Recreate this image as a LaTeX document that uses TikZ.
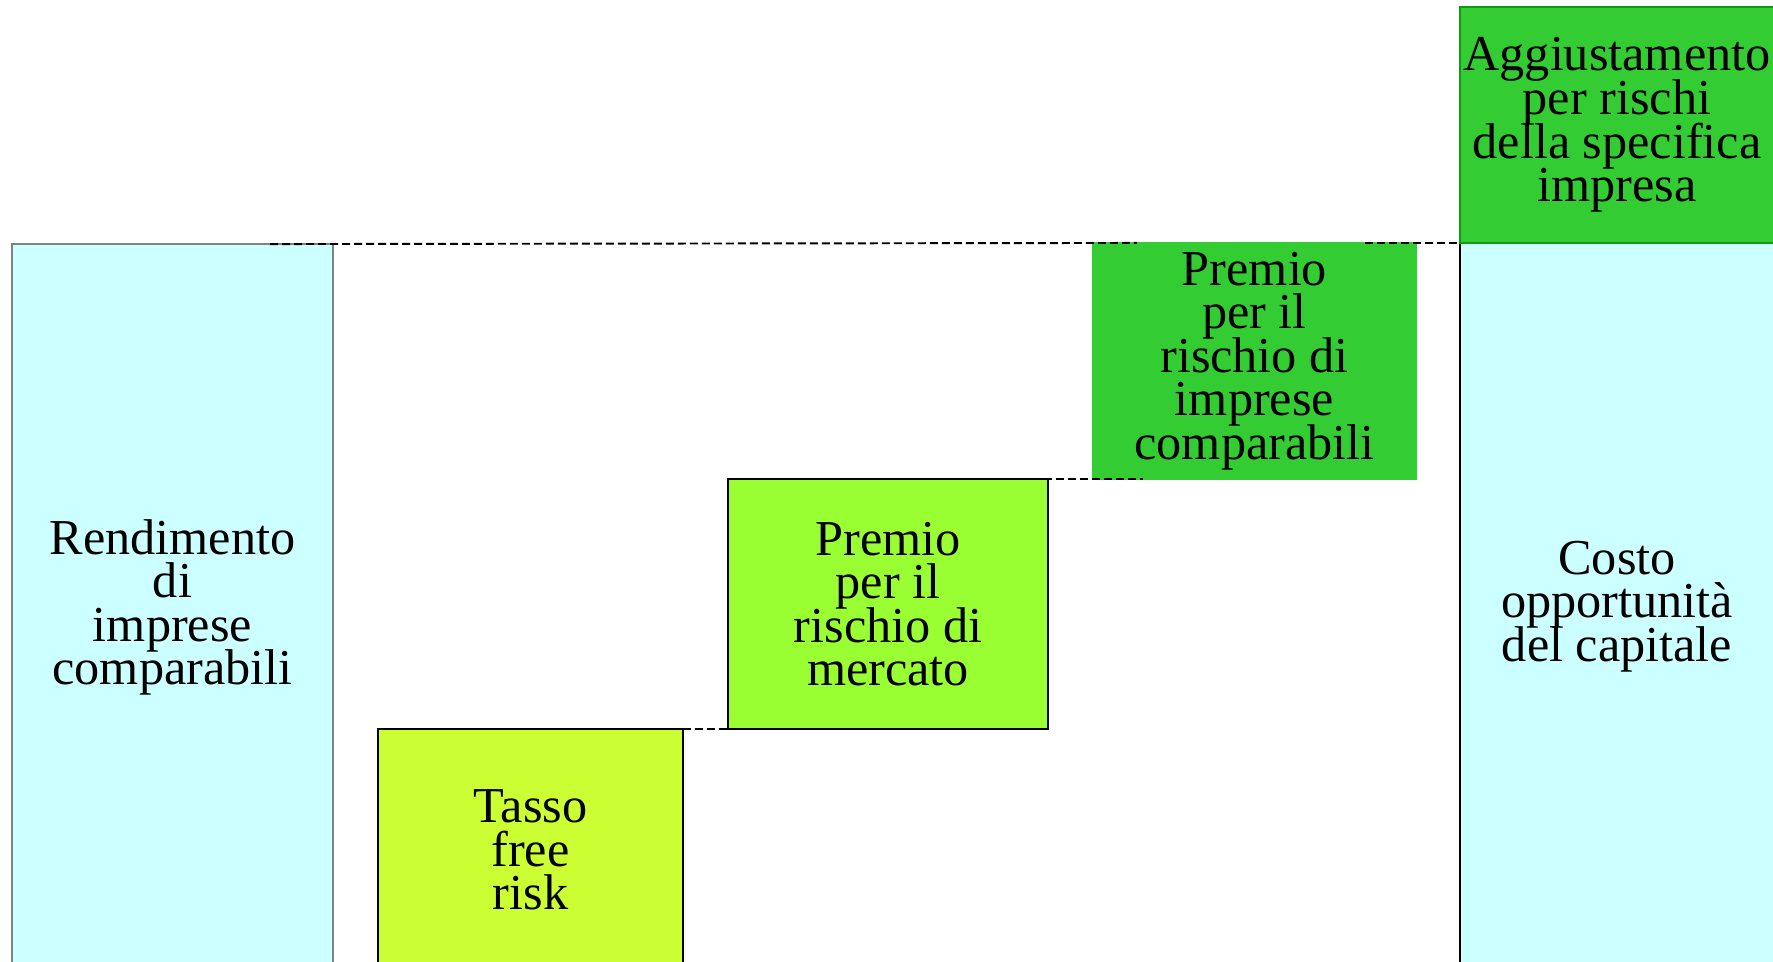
\documentclass[tikz,border=0pt]{standalone}
\usepackage{fontspec}
\setmainfont{Liberation Serif}
\usetikzlibrary{positioning}
\definecolor{azzurro}{HTML}{CCFFFF}
\definecolor{lime1}{HTML}{CCFF33}
\definecolor{lime2}{HTML}{99FF33}
\definecolor{verde}{HTML}{33CC33}
\definecolor{verdescuro}{HTML}{119911}
\newcommand\boxfont{\fontsize{14.3}{12.4}\selectfont\lineskiplimit=-6pt\relax}
\tikzset{
  box1/.style = {
    shape = rectangle,
    draw = black,
    line width = 0.6pt,
    align = center,
    inner sep = 0pt,
    outer sep = 0pt,
    font = \boxfont,
  }
}
\tikzset{
  dash1/.style = {
    draw = black, line width = 0.55pt, dash pattern = on 0.08cm off 0.04cm,
  }
}

\begin{document}
\begin{tikzpicture}
        \clip (0,0) rectangle (17.73,9.61);
        \node[box1, fill = azzurro, draw = gray, minimum width = 3.21cm, minimum height = 7.27cm, anchor = north west] (rend) at (0.12,7.17) {Rendimento\\di\\imprese\\comparabili};
        \node[box1, fill = lime1, minimum width = 3.05cm, minimum height = 2.42cm, right = 0.45cm of rend.north east, anchor = north west, yshift = -4.85cm] (tasso) {Tasso\\free\\risk};
        \node[box1, fill = lime2, minimum width = 3.20cm, minimum height = 2.50cm, right = 0.45cm of tasso.north east, anchor = south west] (mercato) {Premio\\per il\\rischio di\\mercato};
        \node[box1, fill = verde, draw = verde, minimum width = 3.23cm, minimum height = 2.36cm, right = 0.45cm of mercato.north east, anchor = south west] (comp) {Premio\\per il\\rischio di\\imprese\\comparabili};
        \node[box1, fill = azzurro, minimum width = 3.14cm, minimum height = 7.27cm, right = 0.44cm of comp.north east, anchor = north west] (costo) {Costo\\opportunità\\del capitale};
        \node[box1, fill = verde, draw = verdescuro, minimum width = 3.14cm, minimum height = 2.36cm, anchor = south west] (aggiust) at (costo.north west) {Aggiustamento\\per rischi\\della specifica\\impresa};
        \draw[dash1, shorten <= -0.63cm, shorten >= -0.44cm](rend.north east) -- (comp.north west);
        \draw[dash1, shorten <= -0.51cm](comp.north east) -- (costo.north west);
        \draw[dash1, shorten <= -0.16cm, shorten >= -0.50cm](mercato.north east) -- (comp.south west);
        \draw[dash1, shorten >= -0.49cm](tasso.north east) -- (mercato.south west);
    \end{tikzpicture}
\end{document}
